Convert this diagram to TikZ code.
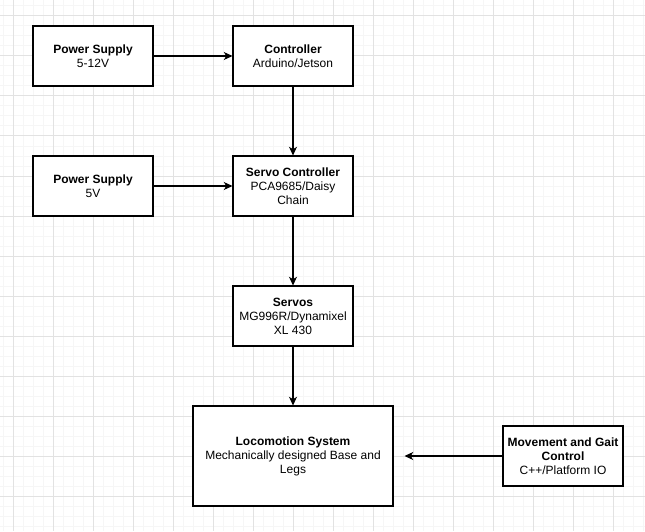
\documentclass[tikz,border=0pt]{standalone}
\usepackage{fontspec}
\setmainfont{Liberation Sans}
\usetikzlibrary{arrows.meta}
\begin{document}
\begin{tikzpicture}[x=0.75pt,y=-0.75pt,
  box/.style={draw=black, line width=0.8pt, fill=white, minimum width=90pt, minimum height=45pt,
    inner sep=0pt, align=center, font=\fontsize{9pt}{10.5pt}\selectfont},
  arr/.style={draw=black, line width=0.8pt, -{Stealth[length=6.5pt,width=6pt,inset=1.8pt]}},
  minorgrid/.style={draw={rgb,255:red,246;green,246;blue,246}, line width=0.75pt},
  majorgrid/.style={draw={rgb,255:red,226;green,226;blue,226}, line width=0.75pt}]
\useasboundingbox (0,0) rectangle (645,531);
\fill[white] (0,0) rectangle (645,531);
% grid
\foreach \gx in {3,13,...,643} {\draw[minorgrid] (\gx,0) -- (\gx,531);}
\foreach \gy in {6,16,...,526} {\draw[minorgrid] (0,\gy) -- (645,\gy);}
\foreach \gx in {13,53,...,633} {\draw[majorgrid] (\gx,0) -- (\gx,531);}
\foreach \gy in {16,56,...,496} {\draw[majorgrid] (0,\gy) -- (645,\gy);}
% nodes
\node[box] (ps1) at (93,56) {\textbf{Power Supply}\\5-12V};
\node[box] (ctrl) at (293,56) {\textbf{Controller}\\Arduino/Jetson};
\node[box] (ps2) at (93,186) {\textbf{Power Supply}\\5V};
\node[box] (sctrl) at (293,186) {\textbf{Servo Controller}\\PCA9685/Daisy\\Chain};
\node[box] (servos) at (293,316) {\textbf{Servos}\\MG996R/Dynamixel\\XL 430};
\node[box, minimum width=150pt, minimum height=75pt] (loco) at (293,456) {\textbf{Locomotion System}\\Mechanically designed Base and\\Legs};
\node[box] (move) at (563,456) {\textbf{Movement and Gait}\\\textbf{Control}\\C++/Platform IO};
% connectors
\draw[arr] (ps1) -- (ctrl);
\draw[arr] (ctrl) -- (sctrl);
\draw[arr] (ps2) -- (sctrl);
\draw[arr] (sctrl) -- (servos);
\draw[arr] (servos) -- (loco);
\draw[arr, shorten >=8.25pt] (move) -- (loco);
\end{tikzpicture}
\end{document}
